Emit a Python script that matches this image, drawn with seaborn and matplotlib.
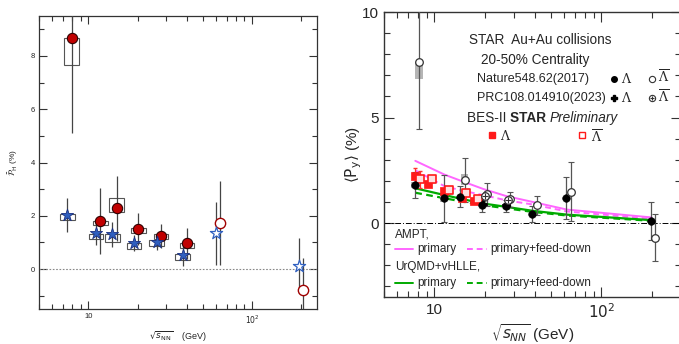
import matplotlib
matplotlib.use("Agg")
import matplotlib.pyplot as plt
import seaborn as sns
from matplotlib.patches import Rectangle
from matplotlib.ticker import LogLocator, NullFormatter, MultipleLocator

# ---------------- left panel data (sqrt(s_NN) in GeV, polarization in %) ----------------
energy = [7.7, 11.5, 14.5, 19.6, 27, 39]
energy_high = [62.4, 200]

alam_y = [8.67, 1.80, 2.28, 1.52, 1.25, 0.97]
alam_err = [3.57, 1.25, 1.22, 0.60, 0.45, 0.58]
alam_box_lo = [7.67, 1.65, 2.13, 1.37, 1.12, 0.80]
alam_box_hi = [8.67, 1.82, 2.68, 1.55, 1.30, 0.98]

lam_y = [2.03, 1.34, 1.30, 0.97, 1.03, 0.53]
lam_err = [0.63, 0.45, 0.47, 0.30, 0.30, 0.40]
lam_box_lo = [1.85, 1.14, 1.03, 0.75, 0.88, 0.33]
lam_box_hi = [2.08, 1.32, 1.32, 0.98, 1.08, 0.55]

alam_high_y = [1.72, -0.77]
alam_high_err = [1.58, 1.20]
lam_high_y = [1.35, 0.12]
lam_high_err = [1.18, 1.03]

# ---------------- right panel data ----------------
nat_lam_x = [7.7, 11.5, 14.5, 19.6, 27, 39, 62.4, 200]
nat_lam_y = [1.80, 1.17, 1.25, 0.85, 0.81, 0.45, 1.20, 0.09]
nat_lam_err = [0.60, 1.10, 0.50, 0.30, 0.30, 0.38, 1.00, 0.90]
nat_lam_sys = [0.15, 0.15, 0.10, 0.10, 0.10, 0.10, 0.0, 0.0]

nat_alam_x = [7.7, 14.5, 19.6, 27, 39, 62.4, 200]
nat_alam_y = [7.64, 2.04, 1.36, 1.12, 0.85, 1.48, -0.69]
nat_alam_err = [3.2, 1.03, 0.55, 0.35, 0.45, 1.40, 1.10]
nat_alam_sys_lo = [0.83, 0.25, 0.10, 0.10, 0.10, 0.0, 0.0]
nat_alam_sys_hi = [0.00, 0.30, 0.10, 0.10, 0.10, 0.0, 0.0]

prc_x = [19.6, 27]
prc_lam_y = [0.92, 0.86]
prc_alam_y = [1.28, 1.08]
prc_err = [0.12, 0.10]

bes_x = [7.7, 9.2, 11.5, 14.6, 17.3]
bes_lam_y = [2.23, 1.85, 1.53, 1.20, 1.04]
bes_lam_err = [0.40, 0.10, 0.10, 0.08, 0.08]
bes_alam_y = [2.07, 2.07, 1.56, 1.41, 1.14]
bes_alam_err = [0.40, 0.12, 0.12, 0.10, 0.10]

model_x = [7.7, 11.5, 14.5, 19.6, 27, 39, 62.4, 200]
ampt_primary = [2.95, 2.30, 2.00, 1.62, 1.28, 1.00, 0.64, 0.27]
ampt_feed = [2.50, 1.75, 1.55, 1.33, 1.08, 0.88, 0.55, 0.20]
urqmd_primary = [1.65, 1.33, 1.15, 0.93, 0.77, 0.58, 0.40, 0.14]
urqmd_feed = [1.44, 1.18, 1.03, 0.85, 0.70, 0.53, 0.36, 0.11]

sns.set_theme(style="ticks")
plt.rcParams["font.family"] = ["Liberation Sans", "DejaVu Sans"]
plt.rcParams["mathtext.fontset"] = "dejavusans"

fig = plt.figure(figsize=(6.79, 3.44), dpi=100)
ax1 = fig.add_axes([0.0574, 0.1017, 0.4095, 0.8518])
ax2 = fig.add_axes([0.5655, 0.1366, 0.4375, 0.8285])


def shift(xs, f):
    return [x * f for x in xs]


def boxes(ax, xs, lo, hi, half, **kw):
    for x, a, b in zip(xs, lo, hi):
        if b - a <= 0:
            continue
        x0, x1 = x * 10 ** (-half), x * 10 ** half
        ax.add_patch(Rectangle((x0, a), x1 - x0, b - a, **kw))


# ================= left panel =================
ax = ax1
ax.axhline(0, color="#888888", lw=0.8, ls=(0, (1.5, 1.5)), zorder=1)

xa = shift(energy, 1.03)
xl = shift(energy, 0.97)
boxes(ax, xa, alam_box_lo, alam_box_hi, 0.045, fill=False, ec="#555555", lw=0.8, zorder=2)
boxes(ax, xl, lam_box_lo, lam_box_hi, 0.045, fill=False, ec="#555555", lw=0.8, zorder=2)

ax.errorbar(xa, alam_y, yerr=alam_err, fmt="none", ecolor="#444444", elinewidth=0.9, zorder=3)
ax.errorbar(xl, lam_y, yerr=lam_err, fmt="none", ecolor="#444444", elinewidth=0.9, zorder=3)
xah = shift(energy_high, 1.03)
xlh = shift(energy_high, 0.97)
ax.errorbar(xah, alam_high_y, yerr=alam_high_err, fmt="none", ecolor="#444444", elinewidth=0.9, zorder=3)
ax.errorbar(xlh, lam_high_y, yerr=lam_high_err, fmt="none", ecolor="#444444", elinewidth=0.9, zorder=3)

sns.scatterplot(x=xa, y=alam_y, ax=ax, marker="o", s=55, color="#c00000",
                edgecolor="#300000", linewidth=0.8, zorder=5)
sns.scatterplot(x=xl, y=lam_y, ax=ax, marker="*", s=85, color="#2f5fbf",
                edgecolor="#1a2f80", linewidth=0.6, zorder=5)
sns.scatterplot(x=xah, y=alam_high_y, ax=ax, marker="o", s=55, color="white",
                edgecolor="#a00000", linewidth=1.0, zorder=5)
sns.scatterplot(x=xlh, y=lam_high_y, ax=ax, marker="*", s=85, color="white",
                edgecolor="#3060c0", linewidth=0.9, zorder=5)

ax.set_xscale("log")
ax.set_xlim(5, 250)
ax.set_ylim(-1.5, 9.5)
ax.set_xticks([10, 100], ["10", "$10^2$"])
ax.xaxis.set_minor_locator(LogLocator(base=10, subs=range(2, 10)))
ax.xaxis.set_minor_formatter(NullFormatter())
ax.yaxis.set_major_locator(MultipleLocator(2))
ax.yaxis.set_minor_locator(MultipleLocator(1))
ax.tick_params(which="both", direction="in", top=True, right=True, labelsize=5.5,
               color="#333333", labelcolor="#222222", width=0.8, pad=3)
ax.tick_params(which="major", length=6)
ax.tick_params(which="minor", length=3.5)
for s in ax.spines.values():
    s.set_color("#333333")
    s.set_linewidth(0.9)
ax.set_xlabel(r"$\sqrt{s_{\rm NN}}$    (GeV)", fontsize=6.5, labelpad=3)
ax.set_ylabel(r"$\bar{\mathcal{P}}_{\rm H}$ (%)", fontsize=6)
ax.yaxis.set_label_coords(-0.068, 0.5)

# ================= right panel =================
ax = ax2
ax.axhline(0, color="black", lw=0.7, ls=(0, (6, 2, 1, 2)), zorder=1)

sns.lineplot(x=model_x, y=ampt_primary, ax=ax, color="#ff66ff", lw=1.4, zorder=2)
sns.lineplot(x=model_x, y=ampt_feed, ax=ax, color="#ff66ff", lw=1.4, linestyle=(0, (3, 2)), zorder=2)
sns.lineplot(x=model_x, y=urqmd_primary, ax=ax, color="#00aa00", lw=1.6, zorder=2)
sns.lineplot(x=model_x, y=urqmd_feed, ax=ax, color="#00aa00", lw=1.6, linestyle=(0, (3, 2)), zorder=2)

nlx = shift(nat_lam_x, 0.99)
nax = shift(nat_alam_x, 1.05)
boxes(ax, nlx, [y - s for y, s in zip(nat_lam_y, nat_lam_sys)],
      [y + s for y, s in zip(nat_lam_y, nat_lam_sys)], 0.022, fc="#b5b5b5", ec="none", zorder=3)
boxes(ax, nax, [y - s for y, s in zip(nat_alam_y, nat_alam_sys_lo)],
      [y + s for y, s in zip(nat_alam_y, nat_alam_sys_hi)], 0.022, fc="#b5b5b5", ec="none", zorder=3)

eb = dict(fmt="none", ecolor="#555555", elinewidth=0.9, capsize=2, capthick=0.8, zorder=4)
ax.errorbar(nlx, nat_lam_y, yerr=nat_lam_err, **eb)
ax.errorbar(nax, nat_alam_y, yerr=nat_alam_err, **eb)
ax.errorbar(prc_x, prc_lam_y, yerr=prc_err, **eb)
ax.errorbar(shift(prc_x, 1.02), prc_alam_y, yerr=prc_err, **eb)
bx_open = shift(bes_x, 1.06)
ax.errorbar(bes_x, bes_lam_y, yerr=bes_lam_err, fmt="none", ecolor="#ff3030", elinewidth=0.9, capsize=1.5, zorder=4)
ax.errorbar(bx_open, bes_alam_y, yerr=bes_alam_err, fmt="none", ecolor="#ff3030", elinewidth=0.9, capsize=1.5, zorder=4)

sns.scatterplot(x=bes_x, y=bes_lam_y, ax=ax, marker="s", s=40, color="#ff1a1a", edgecolor="#ff1a1a", zorder=5)
sns.scatterplot(x=bx_open, y=bes_alam_y, ax=ax, marker="s", s=36, color="#ffe0e0", edgecolor="#ff1a1a",
                linewidth=1.2, zorder=5)
sns.scatterplot(x=nlx, y=nat_lam_y, ax=ax, marker="o", s=30, color="black", edgecolor="black", zorder=6)
sns.scatterplot(x=nax, y=nat_alam_y, ax=ax, marker="o", s=30, color="white", edgecolor="#333333",
                linewidth=0.9, zorder=6)
sns.scatterplot(x=prc_x, y=prc_lam_y, ax=ax, marker="P", s=30, color="black", edgecolor="black", zorder=6)
sns.scatterplot(x=shift(prc_x, 1.02), y=prc_alam_y, ax=ax, marker="o", s=30, color="white",
                edgecolor="#333333", linewidth=0.9, zorder=6)
sns.scatterplot(x=shift(prc_x, 1.02), y=prc_alam_y, ax=ax, marker="+", s=18, color="#333333",
                linewidth=0.8, zorder=7)

ax.set_xscale("log")
ax.set_xlim(5, 300)
ax.set_ylim(-3.5, 10)
ax.set_xticks([10, 100], ["10", "$10^2$"])
ax.xaxis.set_minor_locator(LogLocator(base=10, subs=range(2, 10)))
ax.xaxis.set_minor_formatter(NullFormatter())
ax.yaxis.set_major_locator(MultipleLocator(5))
ax.yaxis.set_minor_locator(MultipleLocator(1))
ax.tick_params(which="both", direction="in", top=True, right=True, labelsize=11,
               color="#333333", width=0.8, pad=4)
ax.tick_params(which="major", length=7)
ax.tick_params(which="minor", length=4)
for s in ax.spines.values():
    s.set_color("#333333")
    s.set_linewidth(1.0)
ax.set_xlabel(r"$\sqrt{s_{NN}}$ (GeV)", fontsize=11, labelpad=1)
ax.set_ylabel(r"$\langle\mathrm{P_y}\rangle$ (%)", fontsize=11)
ax.yaxis.set_label_coords(-0.066, 0.5)

# annotation block
T = ax.transAxes
ax.text(0.525, 0.902, "STAR  Au+Au collisions", transform=T, ha="center", va="center", fontsize=9.8)
ax.text(0.508, 0.832, "20-50% Centrality", transform=T, ha="center", va="center", fontsize=9.8)
ax.text(0.313, 0.765, "Nature548.62(2017)", transform=T, ha="left", va="center", fontsize=9)
ax.text(0.313, 0.698, "PRC108.014910(2023)", transform=T, ha="left", va="center", fontsize=9)
ax.plot([0.775], [0.765], transform=T, marker="o", ms=4, color="black", clip_on=False)
ax.plot([0.775], [0.698], transform=T, marker="P", ms=4, color="black", clip_on=False)
ax.plot([0.902], [0.765], transform=T, marker="o", ms=4.5, mfc="white", mec="#333333", mew=0.8, clip_on=False)
ax.plot([0.902], [0.698], transform=T, marker="o", ms=4.5, mfc="white", mec="#333333", mew=0.8, clip_on=False)
ax.plot([0.902], [0.698], transform=T, marker="+", ms=3.5, color="#333333", mew=0.8, clip_on=False)
for yy in (0.765, 0.698):
    ax.text(0.817, yy, r"$\Lambda$", transform=T, ha="center", va="center", fontsize=9,
            math_fontfamily="dejavuserif")
    ax.text(0.942, yy + 0.005, r"$\overline{\Lambda}$", transform=T, ha="center", va="center", fontsize=9,
            math_fontfamily="dejavuserif")

# "BES-II STAR Preliminary" laid out piece by piece
fig.canvas.draw()
renderer = fig.canvas.get_renderer()
x_cur = 0.279
inv = T.inverted()
for piece, kw in (("BES-II ", {}), ("STAR ", {"fontweight": "bold"}), ("Preliminary", {"style": "italic"})):
    t = ax.text(x_cur, 0.628, piece, transform=T, ha="left", va="center", fontsize=9.8, **kw)
    bb = t.get_window_extent(renderer)
    x_cur = inv.transform((bb.x1, bb.y0))[0]
    if piece.endswith(" "):
        pass

ax.plot([0.364], [0.568], transform=T, marker="s", ms=4.5, color="#ff1a1a", clip_on=False)
ax.text(0.41, 0.565, r"$\Lambda$", transform=T, ha="center", va="center", fontsize=9,
        math_fontfamily="dejavuserif")
ax.plot([0.667], [0.568], transform=T, marker="s", ms=4.5, mfc="white", mec="#ff1a1a", mew=1.0, clip_on=False)
ax.text(0.717, 0.562, r"$\overline{\Lambda}$", transform=T, ha="center", va="center", fontsize=9,
        math_fontfamily="dejavuserif")

# model legend
ax.text(0.037, 0.218, "AMPT,", transform=T, ha="left", va="center", fontsize=8.5)
ax.text(0.037, 0.105, "UrQMD+vHLLE,", transform=T, ha="left", va="center", fontsize=8.5)
for yy, col in ((0.168, "#ff66ff"), (0.049, "#00aa00")):
    ax.plot([0.037, 0.098], [yy, yy], transform=T, color=col, lw=1.4)
    ax.text(0.113, yy, "primary", transform=T, ha="left", va="center", fontsize=8.5)
    ax.plot([0.279, 0.347], [yy, yy], transform=T, color=col, lw=1.4, ls=(0, (3, 2)))
    ax.text(0.357, yy, "primary+feed-down", transform=T, ha="left", va="center", fontsize=8.5)

fig.savefig("out.png", dpi=100)
